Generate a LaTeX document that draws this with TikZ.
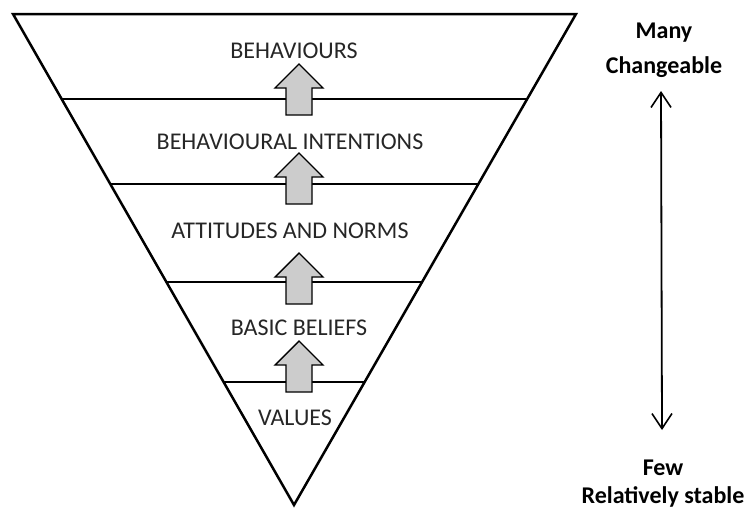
\documentclass[tikz,border=0pt]{standalone}
\usepackage{fontspec}
\setmainfont{Carlito}
\usetikzlibrary{calc,arrows.meta}
\tikzset{
  lvl/.style={font=\fontsize{24}{28}\selectfont, text=black!85, inner sep=0pt},
  side/.style={font=\fontsize{24}{28}\selectfont\bfseries, inner sep=0pt},
  edge/.style={line width=2.5pt, line join=miter},
  sep/.style={line width=1.6pt},
  blk/.style={draw=black, line width=1.4pt, fill=black!20, line join=miter},
  pics/uparrow/.style={code={
    \draw[blk] (0,0) -- (24,24) -- (13,24) -- (13,51) -- (-13,51) -- (-13,24) -- (-24,24) -- cycle;
  }}
}
\begin{document}
\begin{tikzpicture}[x=1pt,y=-1pt]
\useasboundingbox (0,0) rectangle (746,509);
% triangle
\coordinate (TL) at (13,14);
\coordinate (TR) at (576,14);
\coordinate (B) at (294,505);
\draw[edge] (TL) -- (TR) -- (B) -- cycle;
% separators
\foreach \n/\y in {1/99,2/184,3/282,4/382}{
  \coordinate (l\n) at ($(TL)!{(\y-14)/491}!(B)$);
  \coordinate (r\n) at ($(TR)!{(\y-14)/491}!(B)$);
  \draw[sep] (l\n) -- (r\n);
}
% level labels
\node[lvl] (beh) at (294,51) {BEHAVIOURS};
\node[lvl] (int) at (290,142) {BEHAVIOURAL INTENTIONS};
\node[lvl] (att) at (290,231) {ATTITUDES AND NORMS};
\node[lvl] (bel) at (299,328) {BASIC BELIEFS};
\node[lvl] (val) at (295,418) {VALUES};
% block arrows
\pic at (299,64) {uparrow};
\pic at (299,153) {uparrow};
\pic at (299,253) {uparrow};
\pic at (299,341) {uparrow};
% side labels
\node[side] (many) at (664,33) {Many};
\node[side] (chg) at (664,67) {Changeable};
\node[side] (few) at (663,468) {Few};
\node[side] (stab) at (663,497) {Relatively stable};
\coordinate (atop) at (661,91);
\coordinate (abot) at (662,430);
\draw[line width=1.8pt, {Straight Barb[length=15pt,width=20pt,line width=1.6pt]}-{Straight Barb[length=15pt,width=20pt,line width=1.6pt]}] (atop) -- (abot);
\end{tikzpicture}
\end{document}
